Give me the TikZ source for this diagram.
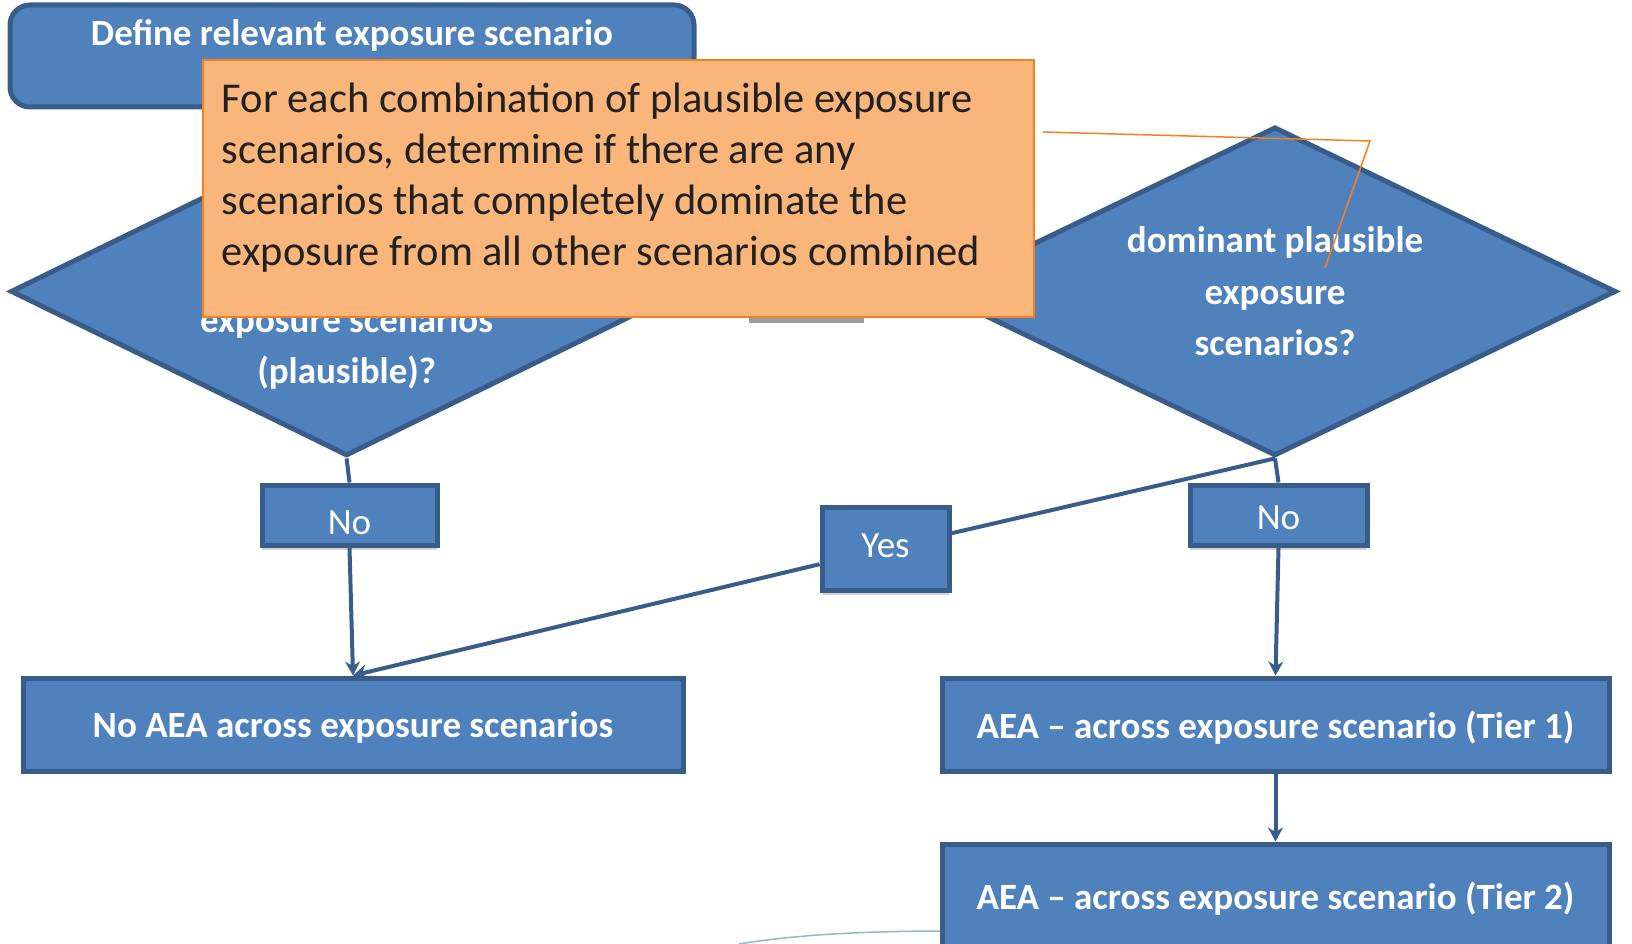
\documentclass[tikz,border=0pt]{standalone}
\usepackage{fontspec}
\setmainfont{Carlito}
\usetikzlibrary{shapes.geometric,arrows.meta,shadows}
\definecolor{boxblue}{RGB}{79,129,189}
\definecolor{edgeblue}{RGB}{56,93,138}
\definecolor{notefill}{RGB}{249,181,122}
\definecolor{noteedge}{RGB}{245,128,32}
\definecolor{notetext}{RGB}{33,33,33}
\definecolor{bargray}{RGB}{155,157,162}
\definecolor{arcteal}{RGB}{140,186,196}

\begin{document}
\begin{tikzpicture}[x=1pt, y=-1pt,
  box/.style={draw=edgeblue, fill=boxblue, line width=5pt, text=white},
  block/.style={box, text depth=0pt, font=\bfseries\fontsize{37}{51.5}\selectfont},
  choice/.style={box, font=\fontsize{37}{44}\selectfont,
    drop shadow={shadow xshift=0pt, shadow yshift=-5pt, opacity=0.35}},
  decision/.style={block, diamond, inner sep=0pt, aspect=2, align=center},
  whitetext/.style={text=white, font=\bfseries\fontsize{37}{51}\selectfont, align=center},
  conn/.style={draw=edgeblue, line width=4pt},
  arr/.style={conn, -{Stealth[length=14pt, width=15pt]}}]
  \useasboundingbox (0,0) rectangle (1632,944);
  % first step
  \draw[box, rounded corners=20pt] (10,5) rectangle (694,107);
  \node[whitetext] (define) at (352,35) {Define relevant exposure scenario};
  % decisions
  \node[decision, minimum width=672pt, minimum height=329pt] (ldia) at (346.6,291.4) {};
  \node[whitetext] (ldiatxt) at (346.6,348) {exposure scenarios\\(plausible)?};
  \node[decision, minimum width=682pt, minimum height=329pt] (rdia) at (1275,291.4)
    {dominant plausible\\exposure\\scenarios?};
  \fill[bargray] (749,317) rectangle (864,323);
  % note
  \draw[draw=noteedge, fill=notefill, line width=2pt] (203,60) rectangle (1034,317);
  \node[anchor=base west, text width=800pt, inner sep=0pt, align=flush left, text=notetext,
    font=\fontsize{42.5}{51}\selectfont] (notetxt) at (221.7,113)
    {For each combination of plausible exposure\\
     scenarios, determine if there are any\\
     scenarios that completely dominate the\\
     exposure from all other scenarios combined};
  \draw[noteedge, line width=1.5pt] (1043,132) -- (1370,141) -- (1325,268);
  % answers
  \node[choice, minimum width=175pt, minimum height=60pt, text height=40pt] (noL) at (349.5,515) {No};
  \node[choice, minimum width=127pt, minimum height=83pt, text depth=6pt] (yes) at (885.5,548.5) {Yes};
  \node[choice, minimum width=177pt, minimum height=60pt, text height=30pt] (noR) at (1278.5,515) {No};
  % outcomes
  \draw[arcteal, line width=1.5pt] (739,944) .. controls (800,934) and (870,931) .. (950,931);
  \node[block, minimum width=660pt, minimum height=93pt] (noAEA) at (353,724.5)
    {No AEA across exposure scenarios};
  \node[block, minimum width=667pt, minimum height=93pt] (tier1) at (1275.5,724.5)
    {AEA -- across exposure scenario (Tier 1)};
  \node[block, minimum width=667pt, minimum height=104pt] (tier2) at (1275.5,896)
    {AEA -- across exposure scenario (Tier 2)};
  % connectors
  \draw[conn] (ldia.south) -- (noL.north);
  \draw[arr] (noL.south) -- (noAEA.north);
  \draw[conn] (rdia.south) -- (yes);
  \draw[arr] (yes) -- (noAEA.north);
  \draw[conn] (rdia.south) -- (noR.north);
  \draw[arr] (noR.south) -- (tier1.north);
  \draw[arr] (tier1.south) -- (tier2.north);
\end{tikzpicture}
\end{document}
